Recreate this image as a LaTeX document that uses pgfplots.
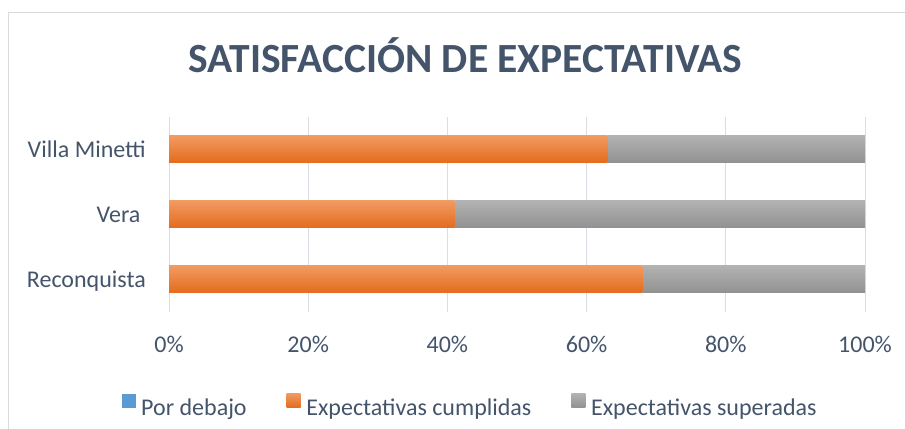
\documentclass[border=0pt]{standalone}
\usepackage{fontspec}
\setmainfont{Carlito}
\usepackage{pgfplots}
\pgfplotsset{compat=1.18}
\definecolor{txt}{HTML}{44546A}
\definecolor{gridc}{HTML}{D9DEE6}
\definecolor{framec}{HTML}{D9D9D9}
\definecolor{bl}{HTML}{5B9BD5}
\definecolor{ortop}{HTML}{F29A61}
\definecolor{orbot}{HTML}{E36B1C}
\definecolor{grtop}{HTML}{B2B2B2}
\definecolor{grbot}{HTML}{919191}
\pgfplotsset{
  base/.style={
    at={(169bp,117bp)}, anchor=south west,
    scale only axis, width=696bp, height=195bp,
    xbar stacked, bar width=27bp,
    xmin=0, xmax=100, ymin=-0.5, ymax=2.5, enlargelimits=false},
  orS/.style={top color=ortop, bottom color=orbot, draw=none},
  grS/.style={top color=grtop, bottom color=grbot, draw=none},
}
\begin{document}
\begin{tikzpicture}
\useasboundingbox (0,0) rectangle (905bp,429bp);
\draw[framec, line width=1bp] (8bp,0) -- (8bp,416bp) -- (905bp,416bp);
\node[font=\bfseries\fontsize{41.5bp}{48bp}\selectfont, text=txt, anchor=base, inner sep=0pt] at (465.5bp,356.5bp) {SATISFACCIÓN DE EXPECTATIVAS};
% Axis 1: grid, ticks, legend, Reconquista
\begin{axis}[base,
  axis line style={draw=none}, major tick length=0pt, tick style={draw=none},
  xmajorgrids, grid style={gridc, line width=1bp},
  xtick={0,20,40,60,80,100},
  xticklabels={0\%,20\%,40\%,60\%,80\%,100\%},
  ytick={0,1,2},
  yticklabels={Reconquista,Vera\kern5.4bp,Villa Minetti},
  tick label style={font=\fontsize{24bp}{28bp}\selectfont, text=txt, inner sep=0pt},
  xticklabel style={anchor=base, yshift=-40bp},
  yticklabel style={anchor=base east, xshift=-23bp, yshift=-7.75bp},
  legend columns=3,
  legend cell align=left,
  legend image code/.code={\path[#1, draw=none] (0bp,0bp) rectangle (14bp,14bp);},
  legend style={draw=none, fill=none, inner sep=0pt, outer sep=0pt,
    at={(axis description cs:-0.0682,-0.478)}, anchor=west,
    font=\fontsize{24bp}{28bp}\selectfont, text=txt,
    nodes={inner sep=0pt},
    /tikz/every odd column/.append style={column sep=5.7bp},
    /tikz/every even column/.append style={column sep=40bp}},
]
\addplot[fill=bl, draw=none] coordinates {(0,0)};
\addplot[orS] coordinates {(68,0)};
\addplot[grS] coordinates {(32,0)};
\legend{Por debajo, Expectativas cumplidas, Expectativas superadas}
\end{axis}
% Axis 2: Vera
\begin{axis}[base, hide axis]
\addplot[fill=bl, draw=none] coordinates {(0,1)};
\addplot[orS] coordinates {(41,1)};
\addplot[grS] coordinates {(59,1)};
\end{axis}
% Axis 3: Villa Minetti
\begin{axis}[base, hide axis]
\addplot[fill=bl, draw=none] coordinates {(0,2)};
\addplot[orS] coordinates {(63,2)};
\addplot[grS] coordinates {(37,2)};
\end{axis}
\end{tikzpicture}
\end{document}
